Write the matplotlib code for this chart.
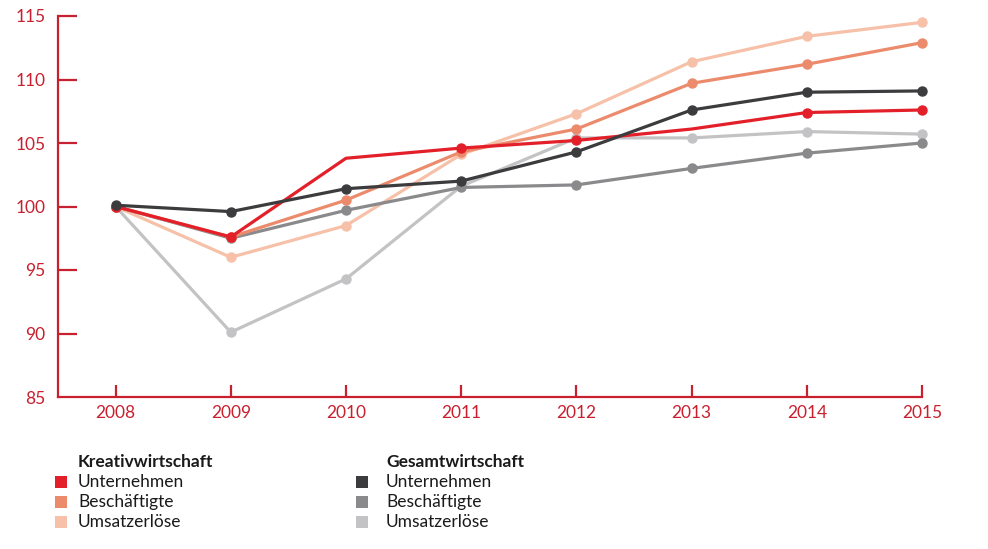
import matplotlib.pyplot as plt
from matplotlib.patches import Rectangle

plt.rcParams['font.family'] = ['Lato', 'DejaVu Sans']

years = [2008, 2009, 2010, 2011, 2012, 2013, 2014, 2015]

kreativ_unternehmen = [100.0, 97.6, 103.8, 104.6, 105.2, 106.1, 107.4, 107.6]
kreativ_beschaeftigte = [100.0, 97.6, 100.5, 104.3, 106.1, 109.7, 111.2, 112.9]
kreativ_umsatz = [100.0, 96.0, 98.5, 104.1, 107.3, 111.4, 113.4, 114.5]
gesamt_unternehmen = [100.1, 99.6, 101.4, 102.0, 104.3, 107.6, 109.0, 109.1]
gesamt_beschaeftigte = [100.0, 97.5, 99.7, 101.5, 101.7, 103.0, 104.2, 105.0]
gesamt_umsatz = [100.0, 90.1, 94.3, 101.6, 105.4, 105.4, 105.9, 105.7]

legend_groups = ['Kreativwirtschaft', 'Gesamtwirtschaft']
legend_labels = ['Unternehmen', 'Beschäftigte', 'Umsatzerlöse']

axis_red = '#c8202f'
colors_kreativ = ['#e3202a', '#ec8a6c', '#f6c1a8']
colors_gesamt = ['#3c3c3e', '#8a8a8c', '#c3c3c5']

fig = plt.figure(figsize=(9.88, 5.49), dpi=100)
ax = fig.add_axes([58 / 988, 1 - 397 / 549, (922 - 58) / 988, (397 - 16) / 549])

# draw order: light first, strong last; red has no dots at 2010 and 2013
all_pts = list(range(len(years)))
series = [
    (gesamt_umsatz, colors_gesamt[2], all_pts),
    (kreativ_umsatz, colors_kreativ[2], all_pts),
    (gesamt_beschaeftigte, colors_gesamt[1], all_pts),
    (kreativ_beschaeftigte, colors_kreativ[1], all_pts),
    (kreativ_unternehmen, colors_kreativ[0], [0, 1, 3, 4, 6, 7]),
    (gesamt_unternehmen, colors_gesamt[0], all_pts),
]
for vals, c, mk in series:
    ax.plot(years, vals, color=c, lw=2.3, marker='o', ms=6.5, markevery=mk,
            solid_capstyle='round', solid_joinstyle='round', clip_on=False)

ax.set_xlim(2007.5, 2015)
ax.set_ylim(85, 115)
ax.set_xticks(years)
ax.set_yticks([85, 90, 95, 100, 105, 110, 115])

for s in ['top', 'right']:
    ax.spines[s].set_visible(False)
for s in ['left', 'bottom']:
    ax.spines[s].set_color(axis_red)
    ax.spines[s].set_linewidth(1.6)

ax.tick_params(axis='y', direction='in', length=14, width=1.6, color=axis_red,
               labelcolor=axis_red, labelsize=12.5, pad=9)
ax.tick_params(axis='x', direction='in', length=9, width=1.6, color=axis_red,
               labelcolor=axis_red, labelsize=12.5, pad=6)
ax.yaxis.get_major_ticks()[0].tick1line.set_visible(False)

# legend, built by hand
W, H = 988, 549
col_x = [55, 356]
text_x = [78, 386]
for g, (group, cols) in enumerate(zip(legend_groups, [colors_kreativ, colors_gesamt])):
    fig.text(text_x[g] / W, 1 - 462 / H, group, fontsize=12.5, fontweight='bold',
             color='#1a1a1a', va='center', ha='left')
    for i, (lab, c) in enumerate(zip(legend_labels, cols)):
        yc = 482 + 20 * i
        fig.add_artist(Rectangle((col_x[g] / W, 1 - (yc + 6) / H), 12 / W, 12 / H,
                                 transform=fig.transFigure, color=c, lw=0))
        fig.text(text_x[g] / W, 1 - yc / H, lab, fontsize=12.5, color='#1a1a1a',
                 va='center', ha='left')

fig.savefig('out.png', dpi=100)
